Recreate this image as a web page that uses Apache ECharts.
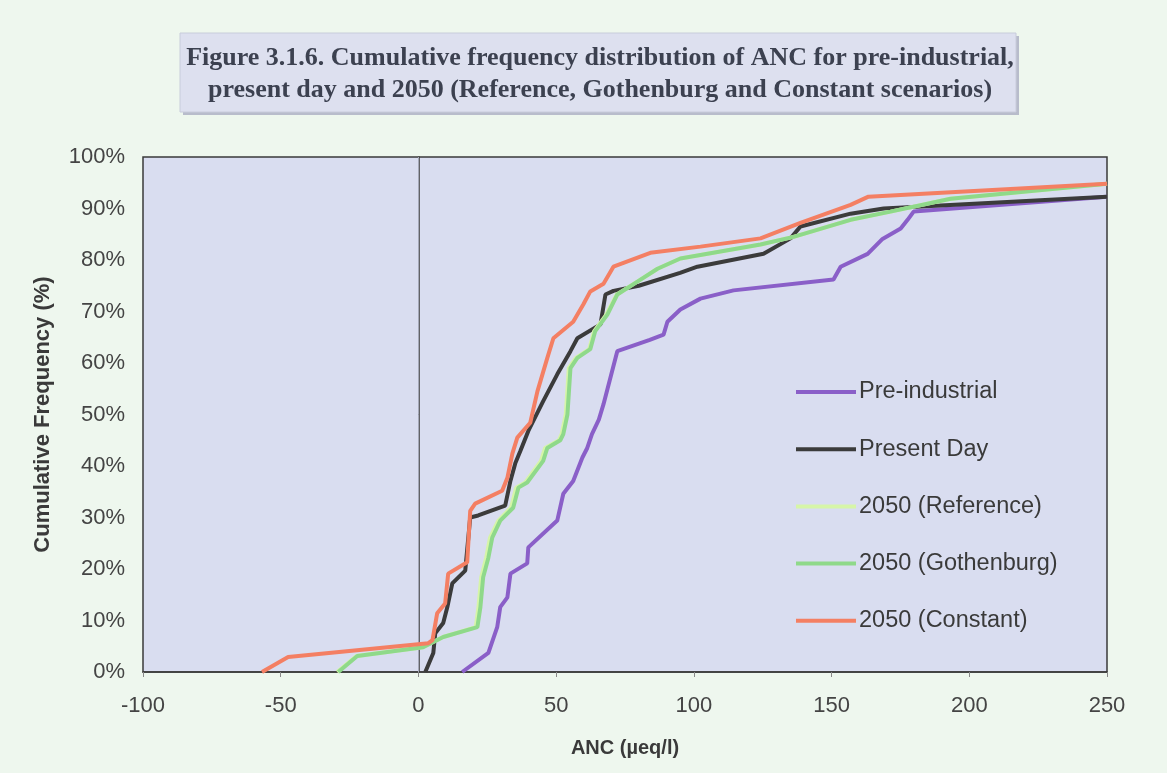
<!DOCTYPE html>
<html><head><meta charset="utf-8">
<script src="https://cdn.jsdelivr.net/npm/echarts@6/dist/echarts.min.js"></script>
<style>html,body{margin:0;padding:0;background:#eef7ee;}#c{width:1167px;height:773px;}</style>
</head><body><div id="c"></div>
<script>
const titleLines = ['Figure 3.1.6. Cumulative frequency distribution of ANC for pre-industrial,',
  'present day and 2050 (Reference, Gothenburg and Constant scenarios)'];
const seriesNames = ['Pre-industrial','Present Day','2050 (Reference)','2050 (Gothenburg)','2050 (Constant)'];
const xTicks = [-100,-50,0,50,100,150,200,250];
const yTicks = [0,10,20,30,40,50,60,70,80,90,100];

const preIndustrial = [[15.9,0],[25.4,3.7],[28.6,8.7],[29.7,12.6],[32.3,14.5],[33.4,19.1],[39.5,21.1],[39.9,24.2],[50.4,29.4],[52.6,34.6],[56.2,37.1],[59.5,41.6],[61.3,43.5],[63,46.2],[65.5,49],[67.2,52],[72.2,62.3],[84,64.5],[89,65.5],[90.4,68],[95.1,70.4],[102.4,72.5],[114.4,74.1],[150.7,76.2],[153.3,78.7],[163.1,81.2],[168.5,84.1],[175.1,86.1],[177.6,87.8],[179.8,89.4],[250,92.3]];
const presentDay = [[2.5,0],[5.4,3.7],[6.1,7.5],[9,9.5],[10.5,12.6],[12.3,17.2],[17,19.7],[18.8,30],[21.7,30.4],[31.5,32.3],[33.4,37.1],[35.2,40.6],[37,42.9],[39.9,46.8],[45.3,52.6],[50.4,57.8],[55.2,62.3],[57.7,64.8],[66.1,67.5],[67.9,73.3],[70.8,74],[80,75],[95,77.5],[101.3,78.7],[125.3,81.2],[135.1,84.2],[138.7,86.5],[156.9,89],[168.9,90],[250,92.3]];
const reference2050 = [[-29.5,0],[-22.5,3.1],[1.5,4.8],[9,6.8],[20.8,8.7],[21.8,12.6],[22.8,18.4],[24.6,22.2],[26,26.1],[29,29.4],[33.6,31.9],[35.5,35.8],[38.8,36.8],[44.5,41],[46,43.5],[51,45],[52,46.2],[53.5,50],[54.6,59],[57.2,61],[62,62.7],[63.8,66.2],[68.2,69.4],[72,73.3],[79.5,75.8],[86.8,78.3],[95.1,80.3],[124.2,83],[136.2,84.5],[156.9,87.8],[171.4,89.4],[193.2,91.9],[250,94.8]];
const gothenburg2050 = [[-29.1,0],[-22.2,3.1],[1.7,4.8],[9,6.8],[21.4,8.7],[22.5,12.6],[23.5,18.4],[25.4,22.2],[26.8,26.1],[29.7,29.4],[34.4,31.9],[36.3,35.8],[39.5,36.8],[45.3,41],[46.8,43.5],[51.5,45],[52.6,46.2],[54.1,50],[55.2,59],[57.7,61],[62.4,62.7],[64.2,66.2],[68.6,69.4],[72.2,73.3],[79.5,75.8],[86.8,78.3],[95.1,80.3],[124.2,83],[136.2,84.5],[156.9,87.8],[171.4,89.4],[193.2,91.9],[250,94.8]];
const constant2050 = [[-56.8,0],[-47.3,2.9],[3.6,5.6],[5.1,6.2],[6.8,11.4],[9.7,13.3],[10.8,19.1],[17.7,21.3],[18.8,31.3],[20.6,32.7],[30.4,35.2],[32.3,37.7],[34.1,42.4],[35.9,45.5],[40.6,48.4],[43.2,54.5],[46.8,61],[49,64.8],[56.2,68],[59.9,71.4],[62.4,73.9],[67.2,75.4],[70.8,78.7],[84.2,81.4],[102.4,82.6],[124.2,84.2],[138.7,87.2],[156.9,90.7],[163.4,92.3],[250,94.8]];

const colors = ['#8a5fc8','#3b3b3b','#d6f5a8','#8fd98a','#f47f63'];
const datasets = [preIndustrial, presentDay, reference2050, gothenburg2050, constant2050];

const chart = echarts.init(document.getElementById('c'));
const series = datasets.map((d,i)=>({
  name: seriesNames[i], type:'line', data:d, showSymbol:false, symbol:'none',
  lineStyle:{color:colors[i], width:4}, itemStyle:{color:colors[i]}, z: 3+i,
  animation:false
}));
series[0].markLine = {silent:true, symbol:'none', label:{show:false}, lineStyle:{color:'#a4a8b8', width:1, type:'solid'}, data:[{xAxis:0}], z:1};

const sans = '"Liberation Sans", Arial, sans-serif';
const titleFont = 'bold 26px "Liberation Serif", "Times New Roman", serif';
chart.setOption({
  backgroundColor:'#eef7ee',
  animation:false,
  graphic:[
    {type:'rect', shape:{x:183,y:36,width:836,height:79}, style:{fill:'#b8bccb'}, z:0},
    {type:'rect', shape:{x:180,y:33,width:836,height:79}, style:{fill:'#dde0ef', stroke:'#c8ccdb', lineWidth:1}, z:1},
    {type:'text', z:2, x:600, y:58, style:{text:titleLines[0], font:titleFont, fill:'#3c4150', align:'center', verticalAlign:'middle'}},
    {type:'text', z:2, x:600, y:90, style:{text:titleLines[1], font:titleFont, fill:'#3c4150', align:'center', verticalAlign:'middle'}}
  ],
  grid:{left:143, right:60, top:157, bottom:101, show:true, backgroundColor:'#d9ddf0', borderColor:'#3a3a3a', borderWidth:1.5, containLabel:false},
  legend:{
    orient:'vertical', left:791, top:375, itemWidth:60, itemHeight:4, itemGap:33.2, icon:'rect',
    textStyle:{fontFamily:sans, fontSize:23.5, color:'#3a3a3a', lineHeight:23, padding:[0,0,0,-2]},
    data: seriesNames.map((n,i)=>({name:n, itemStyle:{color:colors[i]}}))
  },
  xAxis:{
    type:'value', min:xTicks[0], max:xTicks[xTicks.length-1], interval:50,
    name:'ANC (µeq/l)', nameLocation:'middle', nameGap:66,
    nameTextStyle:{fontFamily:sans, fontSize:20, fontWeight:'bold', color:'#3a3a3a'},
    axisLine:{show:true, onZero:false, lineStyle:{color:'#3a3a3a', width:1.5}},
    axisTick:{show:true, length:5, lineStyle:{color:'#888'}},
    splitLine:{show:false},
    axisLabel:{margin:23, fontFamily:sans, fontSize:22, color:'#444'}
  },
  yAxis:{
    type:'value', min:0, max:100, interval:10,
    name:'Cumulative Frequency (%)', nameLocation:'middle', nameGap:89,
    nameTextStyle:{fontFamily:sans, fontSize:22, fontWeight:'bold', color:'#3a3a3a'},
    axisLine:{show:true, lineStyle:{color:'#3a3a3a', width:1.5}},
    axisTick:{show:false},
    splitLine:{show:false},
    axisLabel:{margin:18, formatter:v=>v+'%', fontFamily:sans, fontSize:22, color:'#444'}
  },
  series: series
});
</script></body></html>
